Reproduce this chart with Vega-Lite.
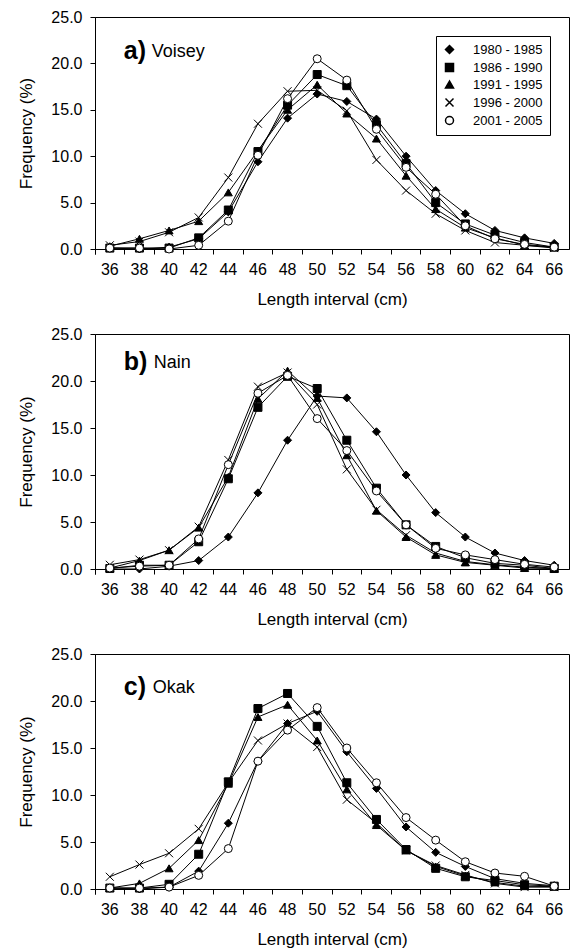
{
  "$schema": "https://vega.github.io/schema/vega-lite/v6.json",
  "padding": {"left": 17, "top": 8, "right": 3, "bottom": 4},
  "config": {
    "font": "Liberation Sans",
    "view": {"stroke": "black", "strokeWidth": 1},
    "axis": {
      "grid": false, "labelFont": "Liberation Sans", "titleFont": "Liberation Sans",
      "labelFontSize": 16, "titleFontSize": 17, "titleFontWeight": "normal",
      "labelColor": "black", "titleColor": "black", "domainColor": "black", "tickColor": "black",
      "tickSize": 5
    },
    "axisX": {"labelPadding": 7, "titlePadding": 14},
    "axisY": {"labelPadding": 8, "titlePadding": 15},
    "legend": {
      "labelFont": "Liberation Sans", "labelFontSize": 13, "labelColor": "black"
    }
  },
  "spacing": 17,
  "resolve": {
    "scale": {"shape": "independent", "fill": "independent"},
    "legend": {"shape": "independent", "fill": "independent"}
  },
  "datasets": {
    "freq": [
      {"p":"a","x":36,"s":"1980 - 1985","y":0.1},{"p":"a","x":36,"s":"1986 - 1990","y":0.1},{"p":"a","x":36,"s":"1991 - 1995","y":0.3},{"p":"a","x":36,"s":"1996 - 2000","y":0.4},{"p":"a","x":36,"s":"2001 - 2005","y":0.1},
      {"p":"a","x":38,"s":"1980 - 1985","y":0.0},{"p":"a","x":38,"s":"1986 - 1990","y":0.1},{"p":"a","x":38,"s":"1991 - 1995","y":1.1},{"p":"a","x":38,"s":"1996 - 2000","y":0.8},{"p":"a","x":38,"s":"2001 - 2005","y":0.1},
      {"p":"a","x":40,"s":"1980 - 1985","y":0.2},{"p":"a","x":40,"s":"1986 - 1990","y":0.1},{"p":"a","x":40,"s":"1991 - 1995","y":2.0},{"p":"a","x":40,"s":"1996 - 2000","y":1.8},{"p":"a","x":40,"s":"2001 - 2005","y":0.0},
      {"p":"a","x":42,"s":"1980 - 1985","y":1.1},{"p":"a","x":42,"s":"1986 - 1990","y":1.2},{"p":"a","x":42,"s":"1991 - 1995","y":3.0},{"p":"a","x":42,"s":"1996 - 2000","y":3.4},{"p":"a","x":42,"s":"2001 - 2005","y":0.4},
      {"p":"a","x":44,"s":"1980 - 1985","y":4.0},{"p":"a","x":44,"s":"1986 - 1990","y":4.2},{"p":"a","x":44,"s":"1991 - 1995","y":6.1},{"p":"a","x":44,"s":"1996 - 2000","y":7.7},{"p":"a","x":44,"s":"2001 - 2005","y":3.0},
      {"p":"a","x":46,"s":"1980 - 1985","y":9.4},{"p":"a","x":46,"s":"1986 - 1990","y":10.5},{"p":"a","x":46,"s":"1991 - 1995","y":10.6},{"p":"a","x":46,"s":"1996 - 2000","y":13.5},{"p":"a","x":46,"s":"2001 - 2005","y":10.1},
      {"p":"a","x":48,"s":"1980 - 1985","y":14.1},{"p":"a","x":48,"s":"1986 - 1990","y":15.5},{"p":"a","x":48,"s":"1991 - 1995","y":15.0},{"p":"a","x":48,"s":"1996 - 2000","y":17.0},{"p":"a","x":48,"s":"2001 - 2005","y":16.2},
      {"p":"a","x":50,"s":"1980 - 1985","y":16.7},{"p":"a","x":50,"s":"1986 - 1990","y":18.8},{"p":"a","x":50,"s":"1991 - 1995","y":17.7},{"p":"a","x":50,"s":"1996 - 2000","y":17.1},{"p":"a","x":50,"s":"2001 - 2005","y":20.5},
      {"p":"a","x":52,"s":"1980 - 1985","y":15.9},{"p":"a","x":52,"s":"1986 - 1990","y":17.6},{"p":"a","x":52,"s":"1991 - 1995","y":14.6},{"p":"a","x":52,"s":"1996 - 2000","y":14.9},{"p":"a","x":52,"s":"2001 - 2005","y":18.2},
      {"p":"a","x":54,"s":"1980 - 1985","y":14.0},{"p":"a","x":54,"s":"1986 - 1990","y":13.4},{"p":"a","x":54,"s":"1991 - 1995","y":11.9},{"p":"a","x":54,"s":"1996 - 2000","y":9.6},{"p":"a","x":54,"s":"2001 - 2005","y":12.9},
      {"p":"a","x":56,"s":"1980 - 1985","y":10.0},{"p":"a","x":56,"s":"1986 - 1990","y":9.2},{"p":"a","x":56,"s":"1991 - 1995","y":7.9},{"p":"a","x":56,"s":"1996 - 2000","y":6.3},{"p":"a","x":56,"s":"2001 - 2005","y":8.8},
      {"p":"a","x":58,"s":"1980 - 1985","y":6.3},{"p":"a","x":58,"s":"1986 - 1990","y":5.0},{"p":"a","x":58,"s":"1991 - 1995","y":4.3},{"p":"a","x":58,"s":"1996 - 2000","y":3.8},{"p":"a","x":58,"s":"2001 - 2005","y":5.9},
      {"p":"a","x":60,"s":"1980 - 1985","y":3.8},{"p":"a","x":60,"s":"1986 - 1990","y":2.7},{"p":"a","x":60,"s":"1991 - 1995","y":2.3},{"p":"a","x":60,"s":"1996 - 2000","y":2.0},{"p":"a","x":60,"s":"2001 - 2005","y":2.5},
      {"p":"a","x":62,"s":"1980 - 1985","y":2.0},{"p":"a","x":62,"s":"1986 - 1990","y":1.5},{"p":"a","x":62,"s":"1991 - 1995","y":1.2},{"p":"a","x":62,"s":"1996 - 2000","y":0.7},{"p":"a","x":62,"s":"2001 - 2005","y":1.1},
      {"p":"a","x":64,"s":"1980 - 1985","y":1.2},{"p":"a","x":64,"s":"1986 - 1990","y":0.7},{"p":"a","x":64,"s":"1991 - 1995","y":0.4},{"p":"a","x":64,"s":"1996 - 2000","y":0.4},{"p":"a","x":64,"s":"2001 - 2005","y":0.5},
      {"p":"a","x":66,"s":"1980 - 1985","y":0.6},{"p":"a","x":66,"s":"1986 - 1990","y":0.2},{"p":"a","x":66,"s":"1991 - 1995","y":0.2},{"p":"a","x":66,"s":"1996 - 2000","y":0.1},{"p":"a","x":66,"s":"2001 - 2005","y":0.2},

      {"p":"b","x":36,"s":"1980 - 1985","y":0.0},{"p":"b","x":36,"s":"1986 - 1990","y":0.05},{"p":"b","x":36,"s":"1991 - 1995","y":0.1},{"p":"b","x":36,"s":"1996 - 2000","y":0.45},{"p":"b","x":36,"s":"2001 - 2005","y":0.1},
      {"p":"b","x":38,"s":"1980 - 1985","y":0.0},{"p":"b","x":38,"s":"1986 - 1990","y":0.4},{"p":"b","x":38,"s":"1991 - 1995","y":0.9},{"p":"b","x":38,"s":"1996 - 2000","y":1.0},{"p":"b","x":38,"s":"2001 - 2005","y":0.3},
      {"p":"b","x":40,"s":"1980 - 1985","y":0.3},{"p":"b","x":40,"s":"1986 - 1990","y":0.4},{"p":"b","x":40,"s":"1991 - 1995","y":2.0},{"p":"b","x":40,"s":"1996 - 2000","y":2.0},{"p":"b","x":40,"s":"2001 - 2005","y":0.4},
      {"p":"b","x":42,"s":"1980 - 1985","y":0.9},{"p":"b","x":42,"s":"1986 - 1990","y":2.9},{"p":"b","x":42,"s":"1991 - 1995","y":4.4},{"p":"b","x":42,"s":"1996 - 2000","y":4.5},{"p":"b","x":42,"s":"2001 - 2005","y":3.2},
      {"p":"b","x":44,"s":"1980 - 1985","y":3.4},{"p":"b","x":44,"s":"1986 - 1990","y":9.6},{"p":"b","x":44,"s":"1991 - 1995","y":9.8},{"p":"b","x":44,"s":"1996 - 2000","y":11.6},{"p":"b","x":44,"s":"2001 - 2005","y":11.1},
      {"p":"b","x":46,"s":"1980 - 1985","y":8.1},{"p":"b","x":46,"s":"1986 - 1990","y":17.2},{"p":"b","x":46,"s":"1991 - 1995","y":18.1},{"p":"b","x":46,"s":"1996 - 2000","y":19.4},{"p":"b","x":46,"s":"2001 - 2005","y":18.7},
      {"p":"b","x":48,"s":"1980 - 1985","y":13.7},{"p":"b","x":48,"s":"1986 - 1990","y":20.5},{"p":"b","x":48,"s":"1991 - 1995","y":21.1},{"p":"b","x":48,"s":"1996 - 2000","y":20.9},{"p":"b","x":48,"s":"2001 - 2005","y":20.6},
      {"p":"b","x":50,"s":"1980 - 1985","y":18.4},{"p":"b","x":50,"s":"1986 - 1990","y":19.2},{"p":"b","x":50,"s":"1991 - 1995","y":18.2},{"p":"b","x":50,"s":"1996 - 2000","y":17.5},{"p":"b","x":50,"s":"2001 - 2005","y":16.0},
      {"p":"b","x":52,"s":"1980 - 1985","y":18.2},{"p":"b","x":52,"s":"1986 - 1990","y":13.7},{"p":"b","x":52,"s":"1991 - 1995","y":12.1},{"p":"b","x":52,"s":"1996 - 2000","y":10.6},{"p":"b","x":52,"s":"2001 - 2005","y":12.6},
      {"p":"b","x":54,"s":"1980 - 1985","y":14.6},{"p":"b","x":54,"s":"1986 - 1990","y":8.6},{"p":"b","x":54,"s":"1991 - 1995","y":6.2},{"p":"b","x":54,"s":"1996 - 2000","y":6.3},{"p":"b","x":54,"s":"2001 - 2005","y":8.3},
      {"p":"b","x":56,"s":"1980 - 1985","y":10.0},{"p":"b","x":56,"s":"1986 - 1990","y":4.7},{"p":"b","x":56,"s":"1991 - 1995","y":3.4},{"p":"b","x":56,"s":"1996 - 2000","y":3.6},{"p":"b","x":56,"s":"2001 - 2005","y":4.7},
      {"p":"b","x":58,"s":"1980 - 1985","y":6.0},{"p":"b","x":58,"s":"1986 - 1990","y":2.4},{"p":"b","x":58,"s":"1991 - 1995","y":1.5},{"p":"b","x":58,"s":"1996 - 2000","y":1.7},{"p":"b","x":58,"s":"2001 - 2005","y":2.2},
      {"p":"b","x":60,"s":"1980 - 1985","y":3.4},{"p":"b","x":60,"s":"1986 - 1990","y":1.2},{"p":"b","x":60,"s":"1991 - 1995","y":0.7},{"p":"b","x":60,"s":"1996 - 2000","y":0.8},{"p":"b","x":60,"s":"2001 - 2005","y":1.5},
      {"p":"b","x":62,"s":"1980 - 1985","y":1.7},{"p":"b","x":62,"s":"1986 - 1990","y":0.6},{"p":"b","x":62,"s":"1991 - 1995","y":0.4},{"p":"b","x":62,"s":"1996 - 2000","y":0.45},{"p":"b","x":62,"s":"2001 - 2005","y":1.0},
      {"p":"b","x":64,"s":"1980 - 1985","y":0.9},{"p":"b","x":64,"s":"1986 - 1990","y":0.4},{"p":"b","x":64,"s":"1991 - 1995","y":0.1},{"p":"b","x":64,"s":"1996 - 2000","y":0.2},{"p":"b","x":64,"s":"2001 - 2005","y":0.5},
      {"p":"b","x":66,"s":"1980 - 1985","y":0.4},{"p":"b","x":66,"s":"1986 - 1990","y":0.05},{"p":"b","x":66,"s":"1991 - 1995","y":0.05},{"p":"b","x":66,"s":"1996 - 2000","y":0.05},{"p":"b","x":66,"s":"2001 - 2005","y":0.2},

      {"p":"c","x":36,"s":"1980 - 1985","y":0.1},{"p":"c","x":36,"s":"1986 - 1990","y":0.1},{"p":"c","x":36,"s":"1991 - 1995","y":0.1},{"p":"c","x":36,"s":"1996 - 2000","y":1.3},{"p":"c","x":36,"s":"2001 - 2005","y":0.1},
      {"p":"c","x":38,"s":"1980 - 1985","y":0.0},{"p":"c","x":38,"s":"1986 - 1990","y":0.1},{"p":"c","x":38,"s":"1991 - 1995","y":0.6},{"p":"c","x":38,"s":"1996 - 2000","y":2.6},{"p":"c","x":38,"s":"2001 - 2005","y":0.1},
      {"p":"c","x":40,"s":"1980 - 1985","y":0.2},{"p":"c","x":40,"s":"1986 - 1990","y":0.5},{"p":"c","x":40,"s":"1991 - 1995","y":2.2},{"p":"c","x":40,"s":"1996 - 2000","y":3.8},{"p":"c","x":40,"s":"2001 - 2005","y":0.2},
      {"p":"c","x":42,"s":"1980 - 1985","y":1.9},{"p":"c","x":42,"s":"1986 - 1990","y":3.7},{"p":"c","x":42,"s":"1991 - 1995","y":5.2},{"p":"c","x":42,"s":"1996 - 2000","y":6.4},{"p":"c","x":42,"s":"2001 - 2005","y":1.45},
      {"p":"c","x":44,"s":"1980 - 1985","y":7.0},{"p":"c","x":44,"s":"1986 - 1990","y":11.4},{"p":"c","x":44,"s":"1991 - 1995","y":11.2},{"p":"c","x":44,"s":"1996 - 2000","y":11.3},{"p":"c","x":44,"s":"2001 - 2005","y":4.3},
      {"p":"c","x":46,"s":"1980 - 1985","y":13.6},{"p":"c","x":46,"s":"1986 - 1990","y":19.2},{"p":"c","x":46,"s":"1991 - 1995","y":18.3},{"p":"c","x":46,"s":"1996 - 2000","y":15.8},{"p":"c","x":46,"s":"2001 - 2005","y":13.6},
      {"p":"c","x":48,"s":"1980 - 1985","y":17.6},{"p":"c","x":48,"s":"1986 - 1990","y":20.8},{"p":"c","x":48,"s":"1991 - 1995","y":19.6},{"p":"c","x":48,"s":"1996 - 2000","y":17.6},{"p":"c","x":48,"s":"2001 - 2005","y":16.9},
      {"p":"c","x":50,"s":"1980 - 1985","y":18.9},{"p":"c","x":50,"s":"1986 - 1990","y":17.3},{"p":"c","x":50,"s":"1991 - 1995","y":15.8},{"p":"c","x":50,"s":"1996 - 2000","y":15.1},{"p":"c","x":50,"s":"2001 - 2005","y":19.3},
      {"p":"c","x":52,"s":"1980 - 1985","y":14.6},{"p":"c","x":52,"s":"1986 - 1990","y":11.3},{"p":"c","x":52,"s":"1991 - 1995","y":10.6},{"p":"c","x":52,"s":"1996 - 2000","y":9.5},{"p":"c","x":52,"s":"2001 - 2005","y":15.0},
      {"p":"c","x":54,"s":"1980 - 1985","y":10.7},{"p":"c","x":54,"s":"1986 - 1990","y":7.4},{"p":"c","x":54,"s":"1991 - 1995","y":6.8},{"p":"c","x":54,"s":"1996 - 2000","y":7.0},{"p":"c","x":54,"s":"2001 - 2005","y":11.3},
      {"p":"c","x":56,"s":"1980 - 1985","y":6.6},{"p":"c","x":56,"s":"1986 - 1990","y":4.2},{"p":"c","x":56,"s":"1991 - 1995","y":4.1},{"p":"c","x":56,"s":"1996 - 2000","y":4.1},{"p":"c","x":56,"s":"2001 - 2005","y":7.6},
      {"p":"c","x":58,"s":"1980 - 1985","y":3.9},{"p":"c","x":58,"s":"1986 - 1990","y":2.2},{"p":"c","x":58,"s":"1991 - 1995","y":2.4},{"p":"c","x":58,"s":"1996 - 2000","y":2.5},{"p":"c","x":58,"s":"2001 - 2005","y":5.2},
      {"p":"c","x":60,"s":"1980 - 1985","y":2.4},{"p":"c","x":60,"s":"1986 - 1990","y":1.3},{"p":"c","x":60,"s":"1991 - 1995","y":1.4},{"p":"c","x":60,"s":"1996 - 2000","y":1.5},{"p":"c","x":60,"s":"2001 - 2005","y":2.9},
      {"p":"c","x":62,"s":"1980 - 1985","y":1.1},{"p":"c","x":62,"s":"1986 - 1990","y":0.9},{"p":"c","x":62,"s":"1991 - 1995","y":0.7},{"p":"c","x":62,"s":"1996 - 2000","y":0.6},{"p":"c","x":62,"s":"2001 - 2005","y":1.7},
      {"p":"c","x":64,"s":"1980 - 1985","y":0.6},{"p":"c","x":64,"s":"1986 - 1990","y":0.45},{"p":"c","x":64,"s":"1991 - 1995","y":0.3},{"p":"c","x":64,"s":"1996 - 2000","y":0.2},{"p":"c","x":64,"s":"2001 - 2005","y":1.35},
      {"p":"c","x":66,"s":"1980 - 1985","y":0.35},{"p":"c","x":66,"s":"1986 - 1990","y":0.3},{"p":"c","x":66,"s":"1991 - 1995","y":0.25},{"p":"c","x":66,"s":"1996 - 2000","y":0.2},{"p":"c","x":66,"s":"2001 - 2005","y":0.3}
    ]
  },
  "vconcat": [
    {
      "width": 474, "height": 232,
      "encoding": {
        "x": {"field": "x", "type": "ordinal", "scale": {"type": "band", "paddingInner": 0, "paddingOuter": 0, "domain": [36, 38, 40, 42, 44, 46, 48, 50, 52, 54, 56, 58, 60, 62, 64, 66]},
              "axis": {"title": "Length interval (cm)", "labelAngle": 0, "bandPosition": 0, "tickExtra": true}},
        "y": {"field": "y", "type": "quantitative", "scale": {"domain": [0, 25], "nice": false},
              "axis": {"title": "Frequency (%)", "values": [0, 5, 10, 15, 20, 25], "format": ".1f"}}
      },
      "layer": [
        {"data": {"name": "freq"}, "transform": [{"filter": "datum.p === 'a'"}],
         "mark": {"type": "line", "color": "black", "strokeWidth": 1}, "encoding": {"detail": {"field": "s"}}},
        {"data": {"name": "freq"}, "transform": [{"filter": "datum.p === 'a'"}],
         "mark": {"type": "point", "filled": true, "stroke": "black", "strokeWidth": 1, "opacity": 1, "size": 64},
         "encoding": {
           "shape": {"field": "s", "type": "nominal", "scale": {"range": ["diamond", "square", "triangle-up", "M-1,-1L1,1M-1,1L1,-1", "circle"]},
             "legend": {"title": null, "orient": "top-right", "offset": 19, "strokeColor": "black", "fillColor": "white", "padding": 7,
               "symbolSize": 64, "labelOffset": 17, "rowPadding": 3, "labelFontSize": 13}},
           "fill": {"field": "s", "type": "nominal", "scale": {"range": ["black", "black", "black", "transparent", "white"]},
             "legend": {"title": null, "orient": "top-right", "offset": 19, "strokeColor": "black", "fillColor": "white", "padding": 7,
               "symbolSize": 64, "labelOffset": 17, "rowPadding": 3, "labelFontSize": 13}}
         }},
        {"data": {"name": "freq"}, "transform": [{"filter": "datum.p === 'a' && datum.x === 36 && datum.s === '1980 - 1985'"}],
         "mark": {"type": "text", "font": "Liberation Sans", "fontWeight": "bold", "fontSize": 25, "align": "left", "baseline": "middle", "dx": 14, "color": "black"},
         "encoding": {"y": {"datum": 21.3}, "text": {"value": "a)"}}},
        {"data": {"name": "freq"}, "transform": [{"filter": "datum.p === 'a' && datum.x === 36 && datum.s === '1980 - 1985'"}],
         "mark": {"type": "text", "font": "Liberation Sans", "fontSize": 18, "align": "left", "baseline": "middle", "dx": 42, "dy": 1, "color": "black"},
         "encoding": {"y": {"datum": 21.3}, "text": {"value": "Voisey"}}}
      ]
    },
    {
      "width": 474, "height": 235,
      "encoding": {
        "x": {"field": "x", "type": "ordinal", "scale": {"type": "band", "paddingInner": 0, "paddingOuter": 0, "domain": [36, 38, 40, 42, 44, 46, 48, 50, 52, 54, 56, 58, 60, 62, 64, 66]},
              "axis": {"title": "Length interval (cm)", "labelAngle": 0, "bandPosition": 0, "tickExtra": true}},
        "y": {"field": "y", "type": "quantitative", "scale": {"domain": [0, 25], "nice": false},
              "axis": {"title": "Frequency (%)", "values": [0, 5, 10, 15, 20, 25], "format": ".1f"}}
      },
      "layer": [
        {"data": {"name": "freq"}, "transform": [{"filter": "datum.p === 'b'"}],
         "mark": {"type": "line", "color": "black", "strokeWidth": 1}, "encoding": {"detail": {"field": "s"}}},
        {"data": {"name": "freq"}, "transform": [{"filter": "datum.p === 'b'"}],
         "mark": {"type": "point", "filled": true, "stroke": "black", "strokeWidth": 1, "opacity": 1, "size": 64},
         "encoding": {
           "shape": {"field": "s", "type": "nominal", "scale": {"range": ["diamond", "square", "triangle-up", "M-1,-1L1,1M-1,1L1,-1", "circle"]}, "legend": null},
           "fill": {"field": "s", "type": "nominal", "scale": {"range": ["black", "black", "black", "transparent", "white"]}, "legend": null}
         }},
        {"data": {"name": "freq"}, "transform": [{"filter": "datum.p === 'b' && datum.x === 36 && datum.s === '1980 - 1985'"}],
         "mark": {"type": "text", "font": "Liberation Sans", "fontWeight": "bold", "fontSize": 25, "align": "left", "baseline": "middle", "dx": 14, "color": "black"},
         "encoding": {"y": {"datum": 22.0}, "text": {"value": "b)"}}},
        {"data": {"name": "freq"}, "transform": [{"filter": "datum.p === 'b' && datum.x === 36 && datum.s === '1980 - 1985'"}],
         "mark": {"type": "text", "font": "Liberation Sans", "fontSize": 18, "align": "left", "baseline": "middle", "dx": 44, "dy": 1, "color": "black"},
         "encoding": {"y": {"datum": 22.0}, "text": {"value": "Nain"}}}
      ]
    },
    {
      "width": 474, "height": 235,
      "encoding": {
        "x": {"field": "x", "type": "ordinal", "scale": {"type": "band", "paddingInner": 0, "paddingOuter": 0, "domain": [36, 38, 40, 42, 44, 46, 48, 50, 52, 54, 56, 58, 60, 62, 64, 66]},
              "axis": {"title": "Length interval (cm)", "labelAngle": 0, "bandPosition": 0, "tickExtra": true}},
        "y": {"field": "y", "type": "quantitative", "scale": {"domain": [0, 25], "nice": false},
              "axis": {"title": "Frequency (%)", "values": [0, 5, 10, 15, 20, 25], "format": ".1f"}}
      },
      "layer": [
        {"data": {"name": "freq"}, "transform": [{"filter": "datum.p === 'c'"}],
         "mark": {"type": "line", "color": "black", "strokeWidth": 1}, "encoding": {"detail": {"field": "s"}}},
        {"data": {"name": "freq"}, "transform": [{"filter": "datum.p === 'c'"}],
         "mark": {"type": "point", "filled": true, "stroke": "black", "strokeWidth": 1, "opacity": 1, "size": 64},
         "encoding": {
           "shape": {"field": "s", "type": "nominal", "scale": {"range": ["diamond", "square", "triangle-up", "M-1,-1L1,1M-1,1L1,-1", "circle"]}, "legend": null},
           "fill": {"field": "s", "type": "nominal", "scale": {"range": ["black", "black", "black", "transparent", "white"]}, "legend": null}
         }},
        {"data": {"name": "freq"}, "transform": [{"filter": "datum.p === 'c' && datum.x === 36 && datum.s === '1980 - 1985'"}],
         "mark": {"type": "text", "font": "Liberation Sans", "fontWeight": "bold", "fontSize": 25, "align": "left", "baseline": "middle", "dx": 14, "color": "black"},
         "encoding": {"y": {"datum": 21.5}, "text": {"value": "c)"}}},
        {"data": {"name": "freq"}, "transform": [{"filter": "datum.p === 'c' && datum.x === 36 && datum.s === '1980 - 1985'"}],
         "mark": {"type": "text", "font": "Liberation Sans", "fontSize": 18, "align": "left", "baseline": "middle", "dx": 43, "dy": 1, "color": "black"},
         "encoding": {"y": {"datum": 21.5}, "text": {"value": "Okak"}}}
      ]
    }
  ]
}
